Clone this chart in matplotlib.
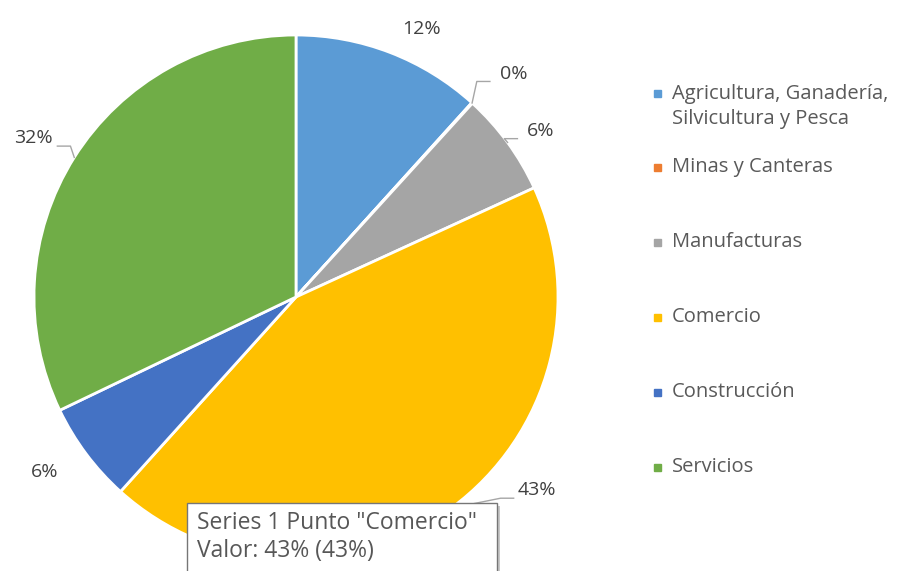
import numpy as np
import matplotlib
matplotlib.use("Agg")
import matplotlib.pyplot as plt
from matplotlib.patches import Rectangle

plt.rcParams['font.family'] = ['Open Sans', 'DejaVu Sans']

categorias = ["Agricultura, Ganadería,\nSilvicultura y Pesca", "Minas y Canteras",
              "Manufacturas", "Comercio", "Construcción", "Servicios"]
valores = [11.7, 0.05, 6.4, 43.5, 6.2, 32.1]
etiquetas = ["12%", "0%", "6%", "43%", "6%", "32%"]
colores = ["#5B9BD5", "#ED7D31", "#A5A5A5", "#FFC000", "#4472C4", "#70AD47"]

W, H = 904, 571
fig = plt.figure(figsize=(W / 100, H / 100), dpi=100)

cx, cy, R = 296, 297, 262
ax = fig.add_axes([(cx - R) / W, (H - cy - R) / H, 2 * R / W, 2 * R / H])

wedges, _ = ax.pie(valores, colors=colores, startangle=90, counterclock=False,
                   radius=1, wedgeprops=dict(edgecolor='white', linewidth=2))
ax.set_xlim(-1, 1)
ax.set_ylim(-1, 1)
ax.set_aspect('equal')
ax.axis('off')

# label placement: (angle shift in deg, radius, leader?)
ajuste = [(-4, 1.13, False), (-2, 1.19, True), (-2, 1.13, True),
          (15, 1.18, True), (-2, 1.17, False), (1, 1.17, True)]
txt_col = "#404040"
for w, lab, (da, rr, leader) in zip(wedges, etiquetas, ajuste):
    mid = (w.theta1 + w.theta2) / 2
    a = np.deg2rad(mid + da)
    x, y = rr * np.cos(a), rr * np.sin(a)
    ax.text(x, y, lab, ha='center', va='center', fontsize=14, color=txt_col)
    if leader:
        am = np.deg2rad(mid)
        x0, y0 = np.cos(am), np.sin(am)
        side = 1 if x > 0 else -1
        yl = y - 0.03
        x2 = x - side * 0.09
        x1 = x2 - side * 0.05
        ax.plot([x0, x1, x2], [y0, yl, yl], color="#A6A6A6", lw=1.0, clip_on=False)

# legend
ys = [93] + [167 + 75 * i for i in range(len(categorias) - 1)]
for cat, col, yy in zip(categorias, colores, ys):
    fig.patches.append(Rectangle((654 / W, (H - yy - 4) / H), 7 / W, 7 / H,
                                 transform=fig.transFigure, color=col))
    nl = cat.count('\n')
    fig.text(672 / W, (H - yy - nl * 13.5) / H, cat, ha='left', va='center',
             fontsize=14.5, color="#595959", linespacing=1.3)

# tooltip
fig.patches.append(Rectangle((190 / W, -10 / H), 310 / W, (H - 506 + 10) / H,
                             transform=fig.transFigure, facecolor='#C8C8C8', edgecolor='none'))
fig.patches.append(Rectangle((187 / W, -10 / H), 310 / W, (H - 503 + 10) / H,
                             transform=fig.transFigure, facecolor='white', edgecolor='#767676', lw=1))
fig.text(197 / W, (H - 523) / H, 'Series 1 Punto "Comercio"', ha='left', va='center',
         fontsize=16.5, color='#575757')
fig.text(197 / W, (H - 551) / H, 'Valor: 43% (43%)', ha='left', va='center',
         fontsize=16.5, color='#575757')

fig.savefig("out.png", dpi=100)
